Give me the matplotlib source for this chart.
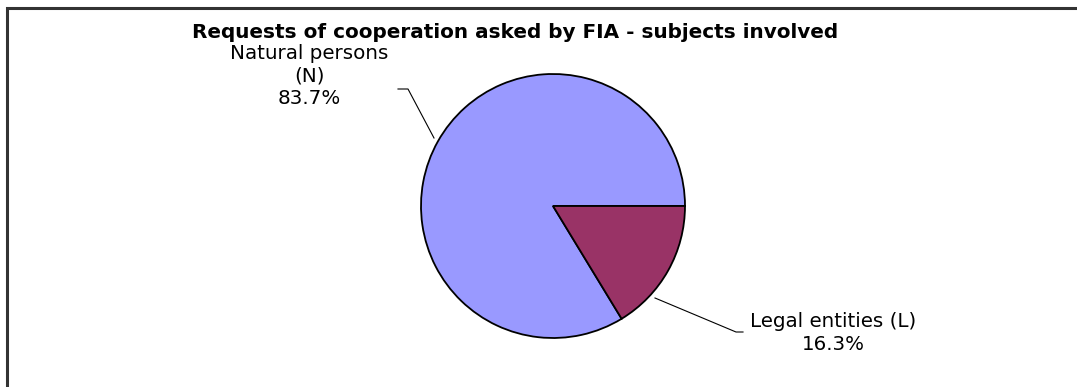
import matplotlib.pyplot as plt
from matplotlib.patches import Rectangle

# subjects involved in requests of cooperation
labels = ["Natural persons\n(N)", "Legal entities (L)"]
shares = [83.7, 16.3]
colors = ["#9999FF", "#993366"]

W, H = 1077, 387
fig = plt.figure(figsize=(W / 100, H / 100), dpi=100)

# outer frame (runs off the right and bottom edge)
fig.patches.append(Rectangle((6.5 / W, -0.2), 1.2, 1.2 - 8.5 / H, transform=fig.transFigure,
                             fill=False, edgecolor="#333333", linewidth=2.2))

fig.text(515 / W, 1 - 32 / H, "Requests of cooperation asked by FIA - subjects involved",
         ha="center", va="center", fontsize=14.4, fontweight="bold", family="DejaVu Sans")

# pie centre (553, 206) px, radius 132 px
cx, cy, r = 553, 206, 132
ax = fig.add_axes([(cx - r) / W, 1 - (cy + r) / H, 2 * r / W, 2 * r / H])
ax.pie(shares, colors=colors, startangle=0, counterclock=True,
       wedgeprops=dict(edgecolor="black", linewidth=1.3))
ax.set_xlim(-1, 1)
ax.set_ylim(-1, 1)
ax.set_aspect("auto")
ax.axis("off")


def px(x, y):
    return x / W, 1 - y / H


# leader lines
fig.add_artist(plt.Line2D([px(398, 0)[0], px(408, 0)[0], px(434, 0)[0]],
                          [px(0, 89)[1], px(0, 89)[1], px(0, 138)[1]],
                          color="black", linewidth=0.8))
fig.add_artist(plt.Line2D([px(655, 0)[0], px(736, 0)[0], px(743, 0)[0]],
                          [px(0, 298)[1], px(0, 332)[1], px(0, 332)[1]],
                          color="black", linewidth=0.8))

x0, y0 = px(309, 76)
fig.text(x0, y0, f"{labels[0]}\n{shares[0]:.1f}%", ha="center", va="center",
         fontsize=14.3, linespacing=1.22, family="DejaVu Sans")
x1, y1 = px(833, 333)
fig.text(x1, y1, f"{labels[1]}\n{shares[1]:.1f}%", ha="center", va="center",
         fontsize=14.3, linespacing=1.22, family="DejaVu Sans")

fig.savefig("out.png", dpi=100, facecolor="white")
